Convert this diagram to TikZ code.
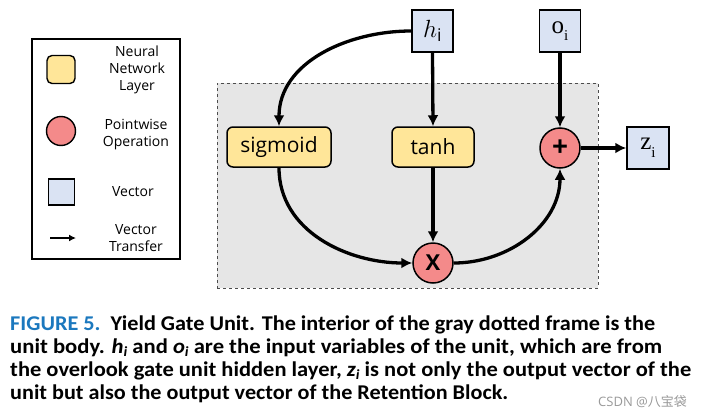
\documentclass[tikz,border=0pt]{standalone}
\usepackage{fontspec}
\usepackage{graphicx}
\setmainfont{Open Sans}
\newfontfamily\capfont{Carlito}
\newfontfamily\cjkfont{Noto Sans CJK SC}
\newfontfamily\serifvar{Liberation Serif}
\usetikzlibrary{arrows.meta}
\definecolor{nnyellow}{HTML}{FFE699}
\definecolor{pwred}{HTML}{F48A8A}
\definecolor{vecblue}{HTML}{DAE3F3}
\definecolor{framegray}{HTML}{E6E6E6}
\definecolor{capblue}{HTML}{1B78BE}
\newcommand{\capsub}[1]{\textit{#1}\raisebox{-0.18em}{\fontsize{14}{14}\selectfont\textit{i}}}
\tikzset{
  nnlayer/.style={draw, line width=1.5pt, fill=nnyellow, rounded corners=6pt, minimum height=40pt, inner sep=0pt, font=\fontsize{21}{21}\selectfont},
  pwop/.style={circle, draw, line width=1.5pt, fill=pwred, minimum size=40pt, inner sep=0pt, font=\bfseries\fontsize{22}{22}\selectfont},
  vecbox/.style={draw, line width=1.5pt, fill=vecblue, minimum width=41pt, minimum height=42pt, inner sep=0pt, font=\fontsize{25}{25}\selectfont},
  flow/.style={line width=3.3pt, -{Latex[length=11pt,width=11pt]}},
  legtext/.style={align=center, font=\fontsize{14}{17}\selectfont},
  capline/.style={anchor=base west, inner sep=0pt, font=\capfont\bfseries\fontsize{21}{21}\selectfont},
}
\begin{document}
\begin{tikzpicture}[x=1pt,y=-1pt]
\useasboundingbox (0,0) rectangle (713,418);
% unit frame
\node[draw=black!70, dashed, line width=0.8pt, fill=framegray, minimum width=381pt, minimum height=205pt, inner sep=0pt] (frame) at (407.5,185.5) {};
% legend
\node[draw, line width=1.2pt, minimum width=148pt, minimum height=220pt, inner sep=0pt] (legend) at (106,149) {};
\node[draw, line width=1.4pt, fill=nnyellow, rounded corners=5pt, minimum size=28pt, inner sep=0pt] (lnn) at (61,69.5) {};
\node[legtext] (lnnt) at (137,70) {Neural\\Network\\Layer};
\node[circle, draw, line width=1.4pt, fill=pwred, minimum size=29pt, inner sep=0pt] (lpw) at (61,131) {};
\node[legtext] (lpwt) at (136,134.5) {Pointwise\\Operation};
\node[draw, line width=1.4pt, fill=vecblue, minimum size=26pt, inner sep=0pt] (lvec) at (61.5,192) {};
\node[legtext] (lvect) at (133,191.5) {Vector};
\coordinate (la1) at (50,238);
\coordinate (la2) at (76,238);
\draw[line width=1.9pt, -{Latex[length=7pt,width=7pt]}] (la1) -- (la2);
\node[legtext] (ltrt) at (136,238.5) {Vector\\Transfer};
% main nodes
\node[vecbox] (hi) at (432.5,31) {$h_{\mathrm{i}}$};
\node[vecbox] (oi) at (560,31) {\serifvar o\raisebox{-0.3em}{\fontsize{15}{15}\selectfont i}};
\node[vecbox, minimum width=42pt] (zi) at (648,148) {\serifvar z\raisebox{-0.3em}{\fontsize{15}{15}\selectfont i}};
\node[nnlayer, minimum width=104pt] (sig) at (279,147) {sigmoid};
\node[nnlayer, minimum width=82pt] (tanh) at (433,147) {tanh};
\node[pwop] (mul) at (433,263) {X};
\node[pwop, font=\bfseries\fontsize{28}{28}\selectfont] (add) at (560,148) {+};
% connectors
\draw[flow] (hi.west) to[out=180,in=90] (sig.north);
\draw[flow] (hi.south) -- (tanh.north);
\draw[flow] (tanh.south) -- (mul.north);
\draw[flow] (sig.south) to[out=270,in=180] (mul.west);
\draw[flow] (mul.east) to[out=0,in=270] (add.south);
\draw[flow] (oi.south) -- (add.north);
\draw[flow] (add.east) -- (zi.west);
% caption
\node[capline] (c1) at (10,330) {\resizebox{645pt}{\height}{\textcolor{capblue}{FIGURE 5.}\ \ Yield Gate Unit. The interior of the gray dotted frame is the}};
\node[capline] (c2) at (10,353) {\resizebox{652pt}{\height}{unit body. \capsub{h} and \capsub{o} are the input variables of the unit, which are from}};
\node[capline] (c3) at (10,376) {\resizebox{681pt}{\height}{the overlook gate unit hidden layer, \capsub{z} is not only the output vector of the}};
\node[capline] (c4) at (10,399) {\resizebox{498pt}{\height}{unit but also the output vector of the Retention Block.}};
\node[anchor=base west, inner sep=0pt, text=black!40, font=\fontsize{13}{13}\selectfont] (wm) at (598,406) {CSDN @{\cjkfont 八宝袋}};
\end{tikzpicture}
\end{document}
